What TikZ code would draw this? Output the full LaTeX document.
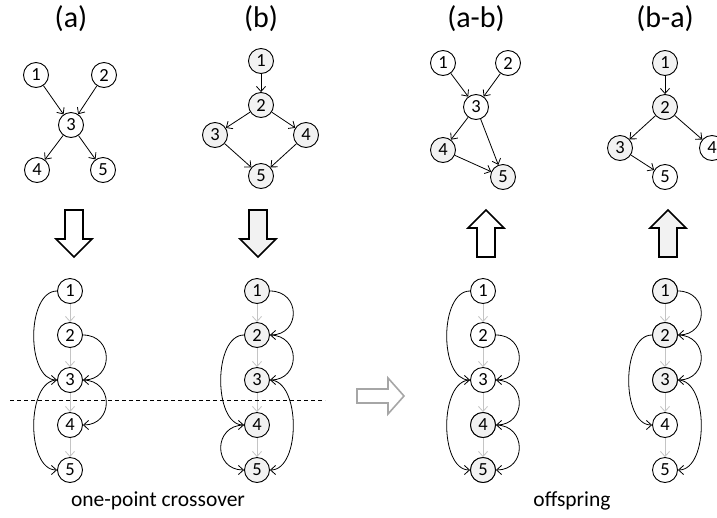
\documentclass[tikz,border=0pt]{standalone}
\usepackage{fontspec}
\setmainfont{Carlito}
\usetikzlibrary{arrows.meta}
\definecolor{nodegray}{HTML}{F2F2F2}
\definecolor{ordgray}{HTML}{C4C4C4}
\definecolor{blockgray}{HTML}{A6A6A6}
\begin{document}
\begin{tikzpicture}[x=1pt,y=-1pt,
  vtx/.style={circle,draw,line width=0.9pt,minimum size=25pt,inner sep=0pt,font=\fontsize{18.5}{18.5}\selectfont},
  gvtx/.style={vtx,fill=nodegray},
  edge/.style={line width=0.8pt,-{Straight Barb[length=5pt,width=9pt]}},
  ord/.style={draw=ordgray,line width=0.8pt,-{Straight Barb[length=5pt,width=9pt]}},
  rarc/.style={edge,out=0,in=0,distance=31pt},
  larc/.style={edge,out=180,in=180,distance=31pt},
  title/.style={font=\fontsize{30}{30}\selectfont},
  caption/.style={font=\fontsize{21.5}{21.5}\selectfont},
  blk/.style={draw,line width=1.6pt,line join=miter},
]
\useasboundingbox (0,0) rectangle (717,517);

% titles
\node[title] (ta) at (71,19) {(a)};
\node[title] (tb) at (261,19) {(b)};
\node[title] (tab) at (476,19) {(a-b)};
\node[title] (tba) at (665,19) {(b-a)};

% graph (a)
\node[vtx] (a1) at (36,75) {1};
\node[vtx] (a2) at (104,75) {2};
\node[vtx] (a3) at (71,125) {3};
\node[vtx] (a4) at (37,170) {4};
\node[vtx] (a5) at (103,170) {5};
\draw[edge] (a1) -- (a3);
\draw[edge] (a2) -- (a3);
\draw[edge] (a3) -- (a4);
\draw[edge] (a3) -- (a5);

% graph (b)
\node[gvtx] (b1) at (261,61) {1};
\node[gvtx] (b2) at (261,105) {2};
\node[gvtx] (b3) at (215,135) {3};
\node[gvtx] (b4) at (306,135) {4};
\node[gvtx] (b5) at (261,176) {5};
\draw[edge] (b1) -- (b2);
\draw[edge] (b2) -- (b3);
\draw[edge] (b2) -- (b4);
\draw[edge] (b3) -- (b5);
\draw[edge] (b4) -- (b5);

% graph (a-b)
\node[vtx] (c1) at (443,63) {1};
\node[vtx] (c2) at (508,63) {2};
\node[vtx] (c3) at (476,107) {3};
\node[gvtx] (c4) at (443,150) {4};
\node[gvtx] (c5) at (503,177) {5};
\draw[edge] (c1) -- (c3);
\draw[edge] (c2) -- (c3);
\draw[edge] (c3) -- (c4);
\draw[edge] (c3) -- (c5);
\draw[edge] (c4) -- (c5);

% graph (b-a)
\node[gvtx] (d1) at (665,63) {1};
\node[gvtx] (d2) at (665,107) {2};
\node[gvtx] (d3) at (620,148) {3};
\node[vtx] (d4) at (712,148) {4};
\node[vtx] (d5) at (665,177) {5};
\draw[edge] (d1) -- (d2);
\draw[edge] (d2) -- (d3);
\draw[edge] (d2) -- (d4);
\draw[edge] (d3) -- (d5);

% block arrows
\draw[blk] (65,210) -- (83,210) -- (83,239) -- (92,239) -- (74,257) -- (56,239) -- (65,239) -- cycle;
\draw[blk,fill=nodegray] (249,210) -- (267,210) -- (267,239) -- (276,239) -- (258,257) -- (240,239) -- (249,239) -- cycle;
\draw[blk] (477,257) -- (495,257) -- (495,228) -- (504,228) -- (486,210) -- (468,228) -- (477,228) -- cycle;
\draw[blk,fill=nodegray] (659,257) -- (677,257) -- (677,228) -- (686,228) -- (668,210) -- (650,228) -- (659,228) -- cycle;
\draw[blk,draw=blockgray] (357,389) -- (388,389) -- (388,378) -- (404,396) -- (388,414) -- (388,403) -- (357,403) -- cycle;

% chains
\foreach \p/\x/\f in {A/70/vtx, B/257/gvtx, C/483/vtx, D/665/vtx} {
  \foreach \i/\y in {1/291, 2/335, 3/380, 4/425, 5/470} {
    \node[\f] (\p\i) at (\x,\y) {\i};
  }
}
\node[gvtx] (C4) at (483,425) {4};
\node[gvtx] (C5) at (483,470) {5};
\node[gvtx] (D1) at (665,291) {1};
\node[gvtx] (D2) at (665,335) {2};
\node[gvtx] (D3) at (665,380) {3};

\foreach \p in {A,B,C,D} {
  \draw[ord] (\p1) -- (\p2);
  \draw[ord] (\p2) -- (\p3);
  \draw[ord] (\p3) -- (\p4);
  \draw[ord] (\p4) -- (\p5);
}

% chain A: 1->3, 2->3, 3->4, 3->5
\draw[larc] (A1.west) to (A3.west);
\draw[rarc] (A2.east) to (A3.east);
\draw[rarc] (A3.east) to (A4.east);
\draw[larc] (A3.west) to (A5.west);

% chain B: 1->2, 2->3, 2->4, 3->5, 4->5
\draw[rarc] (B1.east) to (B2.east);
\draw[rarc] (B2.east) to (B3.east);
\draw[larc] (B2.west) to (B4.west);
\draw[rarc] (B3.east) to (B5.east);
\draw[larc] (B4.west) to (B5.west);

% chain C: 1->3, 2->3, 3->4, 3->5, 4->5
\draw[larc] (C1.west) to (C3.west);
\draw[rarc] (C2.east) to (C3.east);
\draw[rarc] (C3.east) to (C4.east);
\draw[larc] (C3.west) to (C5.west);
\draw[rarc] (C4.east) to (C5.east);

% chain D: 1->2, 2->3, 2->4, 3->5
\draw[rarc] (D1.east) to (D2.east);
\draw[rarc] (D2.east) to (D3.east);
\draw[larc] (D2.west) to (D4.west);
\draw[rarc] (D3.east) to (D5.east);

% crossover line
\coordinate (cl) at (10,400);
\coordinate (cr) at (325,400);
\draw[line width=0.8pt,dash pattern=on 4pt off 3pt] (cl) -- (cr);

% captions
\node[caption] (cap1) at (158,501) {one-point crossover};
\node[caption] (cap2) at (572,501) {offspring};
\end{tikzpicture}
\end{document}
